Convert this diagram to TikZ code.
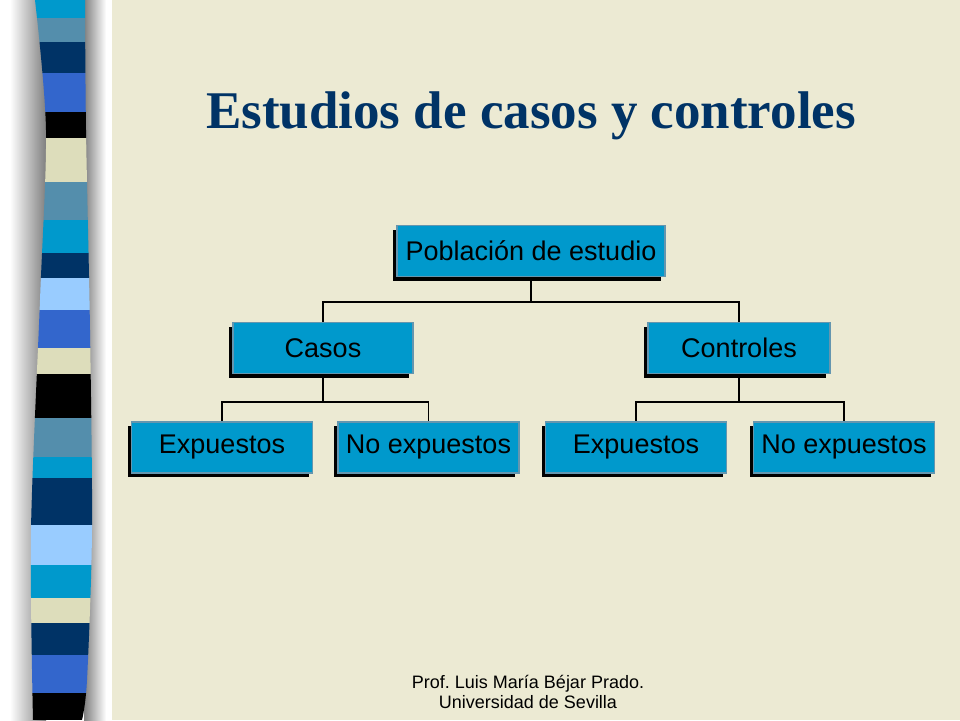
\documentclass[tikz,border=0pt]{standalone}
\usepackage{fontspec}
\setmainfont{Liberation Sans}
\newfontfamily\titulofont{Liberation Serif}
\usetikzlibrary{shadows}

\definecolor{fondo}{RGB}{236,234,211}
\definecolor{azulcaja}{RGB}{0,153,204}
\definecolor{bordecaja}{RGB}{100,150,175}
\definecolor{azultitulo}{RGB}{0,51,102}
\definecolor{cyanst}{RGB}{0,153,204}
\definecolor{acerost}{RGB}{84,142,172}
\definecolor{marinost}{RGB}{0,51,102}
\definecolor{realst}{RGB}{51,102,204}
\definecolor{beigest}{RGB}{221,221,187}
\definecolor{clarost}{RGB}{153,204,255}

\tikzset{
  caja/.style={draw=bordecaja, line width=1.2pt, fill=azulcaja, inner sep=0pt,
    minimum width=181pt, minimum height=51pt,
    font=\fontsize{27}{32}\selectfont,
    drop shadow={shadow xshift=-4pt, shadow yshift=-4pt, fill=black, opacity=1}},
  rama/.style={line width=1.6pt, black}
}

\begin{document}
\frenchspacing
\begin{tikzpicture}[x=1pt, y=-1pt]
    \useasboundingbox (0,0) rectangle (960,720);

    %fondo
    \fill[white] (0,0) rectangle (112,720);
    \fill[fondo] (112,0) rectangle (960,720);
    \shade[left color=white, right color=black!50] (10,0) rectangle (46,720);
    \shade[left color=black!50, right color=white] (84,0) rectangle (106,720);

    %franja
    \begin{scope}
    \clip plot[smooth] coordinates {(35,0) (46,130) (40,300) (31,530) (33,720)}
       -- plot[smooth] coordinates {(82,720) (87,680) (92,530) (90,330) (86,130) (85,0)} -- cycle;
    \foreach \ya/\yb/\col in {0/18/cyanst, 18/42/acerost, 42/73/marinost, 73/112/realst,
        112/138/black, 138/182/beigest, 182/220/acerost, 220/253/cyanst, 253/278/marinost,
        278/310/clarost, 310/348/realst, 348/374/beigest, 374/418/black, 418/457/acerost,
        457/478/cyanst, 478/525/marinost, 525/565/clarost, 565/598/cyanst, 598/623/beigest,
        623/655/marinost, 655/693/realst, 693/720/black}
      \fill[\col] (20,\ya) rectangle (100,\yb);
    \end{scope}

    %titulo
    \node[font=\titulofont\bfseries\fontsize{53}{62}\selectfont, text=azultitulo, anchor=base]
      (titulo) at (531,128) {Estudios de casos y controles};

    %arbol
    \node[caja, minimum width=268pt] (poblacion) at (531,251) {Población de estudio};
    \node[caja, minimum width=180pt] (casos) at (323,348) {Casos};
    \node[caja, minimum width=182pt] (controles) at (739,348) {Controles};
    \node[caja] (expcasos) at (222,447.5) {Expuestos};
    \node[caja] (noexpcasos) at (428.5,447.5) {No expuestos};
    \node[caja] (expcontroles) at (636,447.5) {Expuestos};
    \node[caja] (noexpcontroles) at (844,447.5) {No expuestos};

    %ramas
    \draw[rama] (poblacion.south) -- ++(0,25) -| (casos.north);
    \draw[rama] (poblacion.south) ++(0,25) -| (controles.north);
    \draw[rama] (casos.south) -- ++(0,28) -| (expcasos.north);
    \draw[rama] (casos.south) ++(0,28) -| (noexpcasos.north);
    \draw[rama] (controles.south) -- ++(0,28) -| (expcontroles.north);
    \draw[rama] (controles.south) ++(0,28) -| (noexpcontroles.north);

    %pie
    \node[font=\fontsize{18}{19.5}\selectfont, align=center] (pie) at (528,692)
      {Prof. Luis María Béjar Prado.\\Universidad de Sevilla};

\end{tikzpicture}
\end{document}
